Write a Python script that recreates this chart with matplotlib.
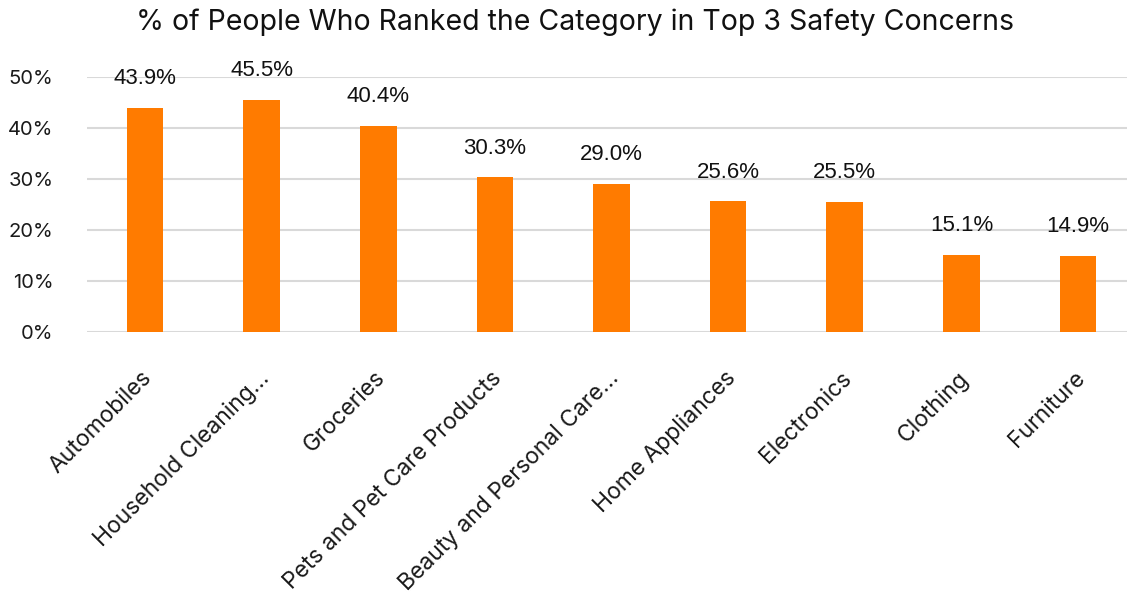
import matplotlib
matplotlib.use("Agg")
import matplotlib.pyplot as plt
from matplotlib.ticker import FuncFormatter
from matplotlib.transforms import ScaledTranslation

categories = [
    "Automobiles",
    "Household Cleaning…",
    "Groceries",
    "Pets and Pet Care Products",
    "Beauty and Personal Care…",
    "Home Appliances",
    "Electronics",
    "Clothing",
    "Furniture",
]
values = [43.9, 45.5, 40.4, 30.3, 29.0, 25.6, 25.5, 15.1, 14.9]
y_ticks = [0, 10, 20, 30, 40, 50]
title = "% of People Who Ranked the Category in Top 3 Safety Concerns"

W, H = 1127, 599
fig = plt.figure(figsize=(W / 100, H / 100), dpi=100)
ax = fig.add_axes([86.7 / W, 1 - 332.3 / H, (W - 86.7) / W, (332.3 - 76.6) / H])

x = list(range(len(categories)))
ax.bar(x, values, width=0.314, color="#FF7B00", zorder=2)

ax.set_xlim(-0.5, 8.42)
ax.set_ylim(0, 50)
ax.set_yticks(y_ticks)
ax.yaxis.set_major_formatter(FuncFormatter(lambda v, _: f"{v:.0f}%"))
ax.grid(axis="y", color="#D9D9D9", linewidth=1.5, zorder=0)
ax.set_axisbelow(True)
for s in ax.spines.values():
    s.set_visible(False)
ax.tick_params(axis="both", length=0)
ax.tick_params(axis="y", pad=24)

for lab in ax.get_yticklabels():
    lab.set_fontfamily("Inter")
    lab.set_fontsize(14.5)
    lab.set_color("#1a1a1a")

ax.set_xticks(x)
ax.set_xticklabels(categories, rotation=45, ha="right", rotation_mode="anchor",
                   fontfamily="Inter", fontsize=16.5, color="#1a1a1a")
ax.tick_params(axis="x", pad=25)
shift = ScaledTranslation(-4 / 100, 0, fig.dpi_scale_trans)
for lab in ax.get_xticklabels():
    lab.set_transform(lab.get_transform() + shift)

for xi, v in zip(x, values):
    ax.annotate(f"{v:.1f}%", (xi, v), xytext=(0, 21), textcoords="offset points",
                ha="center", va="center", fontsize=16,
                family="Liberation Sans", color="#111111", clip_on=False)

fig.text(575 / W, 1 - 22 / H, title, ha="center", va="center",
         fontsize=20.5, family="Inter", color="#111111")

fig.savefig("out.png", dpi=100, facecolor="white")
